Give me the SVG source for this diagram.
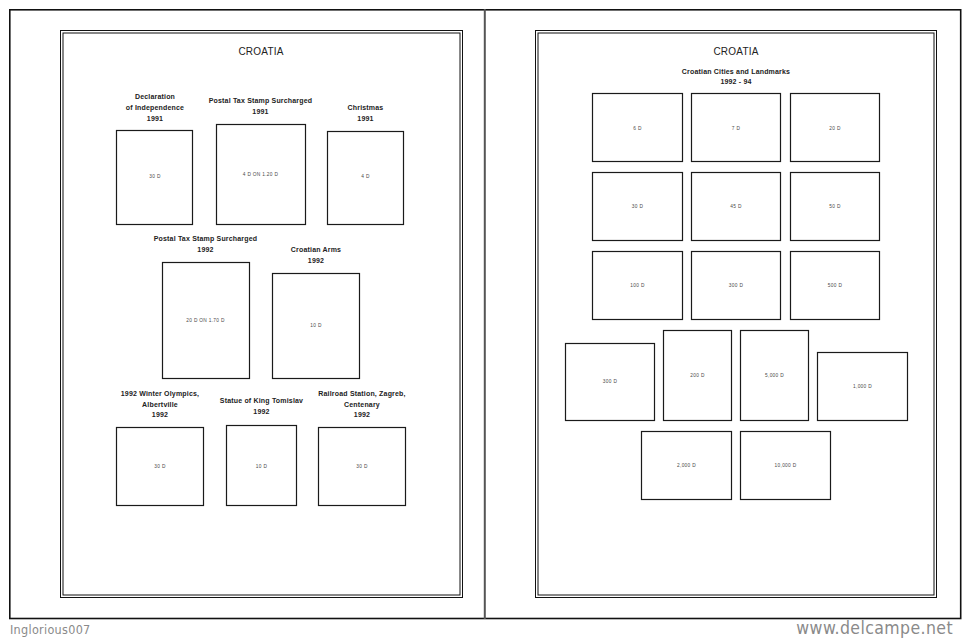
<svg xmlns="http://www.w3.org/2000/svg" width="970" height="639" viewBox="0 0 970 639">
<style>
.pg{fill:none;stroke:#111;stroke-width:1.6}
.fr{fill:none;stroke:#111;stroke-width:1}
.st{fill:#fff;stroke:#1a1a1a;stroke-width:1.2}
.tt{font-family:"Liberation Sans",Arial,sans-serif;font-size:10px;fill:#222;text-anchor:middle;letter-spacing:0.2px}
.lb{font-family:"Liberation Sans",Arial,sans-serif;font-size:7px;font-weight:bold;fill:#222;text-anchor:middle;letter-spacing:0.18px}
.v{font-family:"Liberation Sans",Arial,sans-serif;font-size:4.8px;fill:#4a4a4a;text-anchor:middle;letter-spacing:0.3px}
.wm{font-family:"DejaVu Sans Condensed","DejaVu Sans",sans-serif;fill:#8a8a8a}
</style>
<rect width="970" height="639" fill="#fff"/>
<g id="pages">
<rect class="pg" x="9.8" y="9.8" width="950.9" height="608.7"/>
<line x1="484.8" y1="9" x2="484.8" y2="619" stroke="#555" stroke-width="2"/>
<rect class="fr" x="60.5" y="30.5" width="402" height="567"/>
<rect class="fr" x="63" y="33" width="397" height="562"/>
<rect class="fr" x="535.5" y="30.5" width="401" height="567"/>
<rect class="fr" x="538" y="33" width="396" height="562"/>
</g>
<text class="tt" x="261" y="55">CROATIA</text>
<text class="tt" x="736" y="55">CROATIA</text>
<g id="s1"><text class="lb" x="155" y="99">Declaration</text><text class="lb" x="155" y="110">of Independence</text><text class="lb" x="155" y="121">1991</text><rect class="st" x="116.5" y="130.5" width="76" height="94"/><text class="v" x="155" y="178">30 D</text></g>
<g id="s2"><text class="lb" x="260.5" y="103">Postal Tax Stamp Surcharged</text><text class="lb" x="260.5" y="114">1991</text><rect class="st" x="216.5" y="124.5" width="89" height="100"/><text class="v" x="260.5" y="176">4 D ON 1.20 D</text></g>
<g id="s3"><text class="lb" x="365.5" y="110">Christmas</text><text class="lb" x="365.5" y="121">1991</text><rect class="st" x="327.5" y="131.5" width="76" height="93"/><text class="v" x="365.5" y="178">4 D</text></g>
<g id="s4"><text class="lb" x="205.5" y="241">Postal Tax Stamp Surcharged</text><text class="lb" x="205.5" y="252">1992</text><rect class="st" x="162.5" y="262.5" width="87" height="116"/><text class="v" x="205.5" y="322">20 D ON 1.70 D</text></g>
<g id="s5"><text class="lb" x="316" y="252">Croatian Arms</text><text class="lb" x="316" y="263">1992</text><rect class="st" x="272.5" y="273.5" width="87" height="105"/><text class="v" x="316" y="326.5">10 D</text></g>
<g id="s6"><text class="lb" x="160" y="396">1992 Winter Olympics,</text><text class="lb" x="160" y="406.5">Albertville</text><text class="lb" x="160" y="416.5">1992</text><rect class="st" x="116.5" y="427.5" width="87" height="78"/><text class="v" x="160" y="467.5">30 D</text></g>
<g id="s7"><text class="lb" x="261.5" y="403">Statue of King Tomislav</text><text class="lb" x="261.5" y="414">1992</text><rect class="st" x="226.5" y="425.5" width="70" height="80"/><text class="v" x="261.5" y="467.5">10 D</text></g>
<g id="s8"><text class="lb" x="362" y="396">Railroad Station, Zagreb,</text><text class="lb" x="362" y="406.5">Centenary</text><text class="lb" x="362" y="416.5">1992</text><rect class="st" x="318.5" y="427.5" width="87" height="78"/><text class="v" x="362" y="467.5">30 D</text></g>
<g id="hdr"><text class="lb" x="736" y="73.5">Croatian Cities and Landmarks</text><text class="lb" x="736" y="84">1992 - 94</text></g>
<g id="r1"><rect class="st" x="592.5" y="93.5" width="90" height="68"/><text class="v" x="637.5" y="129.5">6 D</text></g>
<g id="r2"><rect class="st" x="691.5" y="93.5" width="89" height="68"/><text class="v" x="736" y="129.5">7 D</text></g>
<g id="r3"><rect class="st" x="790.5" y="93.5" width="89" height="68"/><text class="v" x="835" y="129.5">20 D</text></g>
<g id="r4"><rect class="st" x="592.5" y="172.5" width="90" height="68"/><text class="v" x="637.5" y="207.5">30 D</text></g>
<g id="r5"><rect class="st" x="691.5" y="172.5" width="89" height="68"/><text class="v" x="736" y="207.5">45 D</text></g>
<g id="r6"><rect class="st" x="790.5" y="172.5" width="89" height="68"/><text class="v" x="835" y="207.5">50 D</text></g>
<g id="r7"><rect class="st" x="592.5" y="251.5" width="90" height="68"/><text class="v" x="637.5" y="286.5">100 D</text></g>
<g id="r8"><rect class="st" x="691.5" y="251.5" width="89" height="68"/><text class="v" x="736" y="286.5">300 D</text></g>
<g id="r9"><rect class="st" x="790.5" y="251.5" width="89" height="68"/><text class="v" x="835" y="286.5">500 D</text></g>
<g id="r10"><rect class="st" x="565.5" y="343.5" width="89" height="77"/><text class="v" x="610" y="382.5">300 D</text></g>
<g id="r11"><rect class="st" x="663.5" y="330.5" width="68" height="90"/><text class="v" x="697.5" y="376.5">200 D</text></g>
<g id="r12"><rect class="st" x="740.5" y="330.5" width="68" height="90"/><text class="v" x="774.5" y="376.5">5,000 D</text></g>
<g id="r13"><rect class="st" x="817.5" y="352.5" width="90" height="68"/><text class="v" x="862.5" y="387.5">1,000 D</text></g>
<g id="r14"><rect class="st" x="641.5" y="431.5" width="90" height="68"/><text class="v" x="686.5" y="467">2,000 D</text></g>
<g id="r15"><rect class="st" x="740.5" y="431.5" width="90" height="68"/><text class="v" x="785.5" y="467">10,000 D</text></g>
<text class="wm" x="10" y="634" font-size="12.5" letter-spacing="0.3">Inglorious007</text>
<text class="wm" x="953" y="634" font-size="17.5" text-anchor="end" fill="#777" font-family="DejaVu Sans,sans-serif" letter-spacing="0.4">www.delcampe.net</text>
</svg>
